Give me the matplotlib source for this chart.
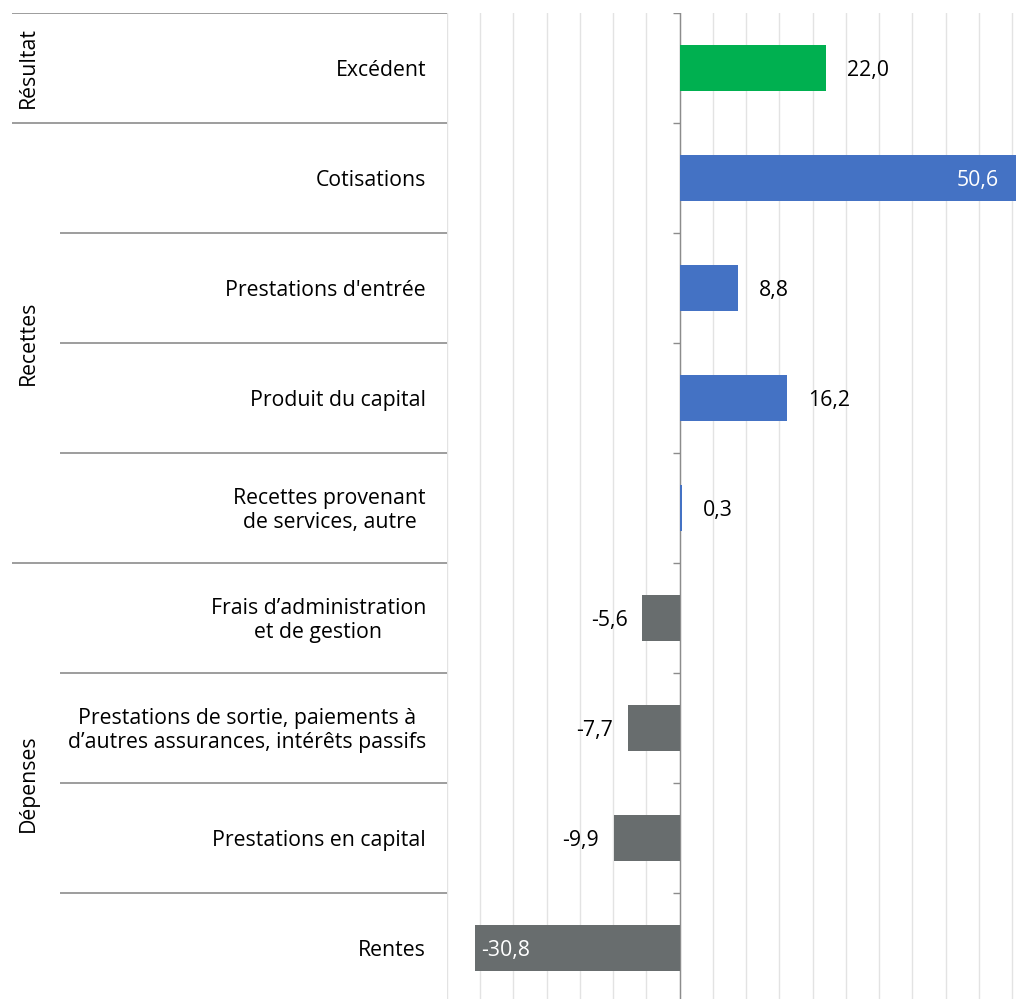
import numpy as np
import matplotlib
matplotlib.use("Agg")
import matplotlib.pyplot as plt

plt.rcParams["font.family"] = ["Open Sans", "DejaVu Sans"]

# =========================
# Data
# =========================
categories = [
    "Excédent",
    "Cotisations",
    "Prestations d'entrée",
    "Produit du capital",
    "Recettes provenant\nde services, autre",
    "Frais d\u2019administration\net de gestion",
    "Prestations de sortie, paiements à\nd\u2019autres assurances, intérêts passifs",
    "Prestations en capital",
    "Rentes",
]
values = [22.0, 50.6, 8.8, 16.2, 0.3, -5.6, -7.7, -9.9, -30.8]
value_labels = ["22,0", "50,6", "8,8", "16,2", "0,3", "-5,6", "-7,7", "-9,9", "-30,8"]
groups = ["Résultat", "Recettes", "Dépenses"]
group_sizes = [1, 4, 4]

colors = ["#00B050"] + ["#4472C4"] * 4 + ["#686D6E"] * 4
inside = [False, True, False, False, False, False, False, False, True]

FS = 15.3
W, H = 1035, 999
fig = plt.figure(figsize=(W / 100, H / 100), dpi=100)

top_px, row_px = 13, 110
n = len(categories)
bot_px = top_px + n * row_px
x0_px, x1_px = 447, 1016
ax = fig.add_axes([x0_px / W, 1 - bot_px / H, (x1_px - x0_px) / W, n * row_px / H])
lab = fig.add_axes([0, 1 - bot_px / H, x0_px / W, n * row_px / H])

y = np.arange(n)
ax.barh(y, values, height=0.41, color=colors, zorder=3)
ax.set_xlim(-35, 50.6)
ax.set_ylim(n - 0.5, -0.5)
for gx in np.arange(-35, 51, 5):
    ax.axvline(gx, color="#e3e3e3", lw=1, zorder=1)
ax.axvline(0, color="#8c8c8c", lw=1, zorder=2)
for axis in ["top", "bottom", "left", "right"]:
    ax.spines[axis].set_visible(False)
ax.set_xticks([])
ax.set_yticks([])

# small ticks on the zero axis at category boundaries
px_unit = (x1_px - x0_px) / (50.6 + 35)
for b in np.arange(-0.5, n, 1.0):
    ax.plot([-7 / px_unit, 0], [b, b], color="#8c8c8c", lw=1, zorder=2,
            solid_capstyle="butt")

# value labels (nudged slightly down to match)
dy = 0.02
for i, (v, t) in enumerate(zip(values, value_labels)):
    if inside[i]:
        if v > 0:
            ax.text(v - 17 / px_unit, i + dy, t, ha="right", va="center", color="white", fontsize=FS, zorder=5)
        else:
            ax.text(v + 6 / px_unit, i + dy, t, ha="left", va="center", color="white", fontsize=FS, zorder=5)
    elif v >= 0:
        ax.text(v + 21 / px_unit, i + dy, t, ha="left", va="center", color="black", fontsize=FS, zorder=5)
    else:
        ax.text(v - 15 / px_unit, i + dy, t, ha="right", va="center", color="black", fontsize=FS, zorder=5)

# left label panel
lab.set_xlim(0, x0_px)
lab.set_ylim(n - 0.5, -0.5)
lab.axis("off")

group_edges = np.cumsum([0] + group_sizes) - 0.5
for b in np.arange(-0.5, n, 1.0):
    xs = 12 if np.any(np.isclose(group_edges, b)) else 60
    lab.plot([xs, x0_px], [b, b], color="#8c8c8c", lw=1.2, solid_capstyle="butt")

for i, c in enumerate(categories):
    lab.text(426, i + dy, c, ha="right", va="center", multialignment="center",
             fontsize=FS, color="black", linespacing=1.18)

for g, s, e in zip(groups, group_edges[:-1], group_edges[1:]):
    lab.text(28, (s + e) / 2, g, rotation=90, ha="center", va="center",
             fontsize=FS, color="black")

fig.savefig("out.png", dpi=100)
